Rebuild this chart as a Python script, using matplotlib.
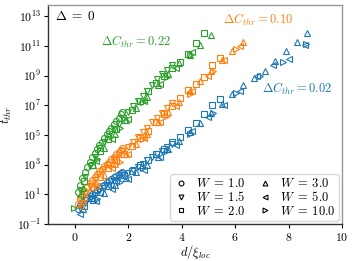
import matplotlib
matplotlib.use("Agg")
import matplotlib.pyplot as plt
from matplotlib.lines import Line2D

plt.rcParams['mathtext.fontset'] = 'cm'
plt.rcParams['font.family'] = 'serif'
plt.rcParams['font.serif'] = ['cmr10', 'DejaVu Serif']
plt.rcParams['axes.formatter.use_mathtext'] = True
plt.rcParams['axes.unicode_minus'] = False

# disorder strengths and their markers
W_values = ['1.0', '1.5', '2.0', '3.0', '5.0', '10.0']
markers = ['o', 'v', 's', '^', '<', '>']

# d/xi_loc grids (one per W)
x_w1 = [0.11, 0.2, 0.29, 0.38, 0.47, 0.56, 0.65, 0.74, 0.83, 0.92, 1.01, 1.1,
        1.19, 1.28, 1.37, 1.46, 1.55, 1.64, 1.73, 1.78]
x_w15 = [0.2, 0.38, 0.56, 0.74, 0.92, 1.1, 1.28, 1.46, 1.64, 1.82, 2.0, 2.18,
         2.36, 2.54, 2.72, 2.9, 3.08, 3.26, 3.44, 3.62]
x_w2 = [0.35, 0.65, 0.95, 1.25, 1.55, 1.85, 2.15, 2.45, 2.75, 3.05, 3.35, 3.65,
        3.95, 4.25, 4.55, 4.85, 5.15, 5.45]
x_w3 = [0.3, 0.7, 1.1, 1.5, 1.9, 2.3, 2.7, 3.1, 3.5, 3.9, 4.3, 4.7, 5.1, 5.5,
        5.9, 6.3, 6.7, 7.1, 7.5, 7.9, 8.3, 8.7]
x_w5 = [0.2, 0.8, 1.4, 2.0, 2.6, 3.2, 3.8, 4.4, 5.0, 5.6, 6.2, 6.8, 7.4, 8.0, 8.6]
x_w10 = [-0.04, 0.83, 1.7, 2.57, 3.44, 4.31, 5.18, 6.05, 6.92, 7.79, 8.66]

# log10(t_thr), dC_thr = 0.22 (green)
g_w1 = [1.16, 1.6, 2.1, 2.5, 2.85, 3.2, 3.5, 3.8, 4.05, 4.3, 4.55, 4.8, 5.05,
        5.3, 5.5, 5.75, 5.95, 6.15, 6.4, 6.55]
g_w15 = [1.3, 2.2, 2.9, 3.55, 4.1, 4.55, 4.95, 5.4, 5.75, 6.15, 6.55, 6.95,
         7.3, 7.65, 8.0, 8.4, 8.75, 9.1, 9.4, 9.75]
g_w2 = [1.9, 3.0, 3.9, 4.7, 5.4, 6.0, 6.7, 7.3, 7.95, 8.5, 9.0, 9.5, 9.95,
        10.5, 11.2, 11.9]
g_w3 = [1.4, 3.0, 4.15, 5.1, 6.0, 6.8, 7.6, 8.4, 9.1, 9.85, 10.4, 11.05, 11.75]
g_w5 = [0.9, 3.25, 4.75, 6.1, 7.3, 8.45, 9.55, 10.6]
g_w10 = [0.08, 3.35, 5.45, 7.25, 8.9, 10.4]

# dC_thr = 0.10 (orange)
o_w1 = [0.35, 0.7, 1.0, 1.25, 1.5, 1.75, 1.95, 2.15, 2.35, 2.55, 2.7, 2.9,
        3.05, 3.2, 3.4, 3.55, 3.7, 3.85, 4.0, 4.1]
o_w15 = [0.65, 1.1, 1.55, 1.95, 2.35, 2.7, 3.0, 3.35, 3.65, 3.95, 4.2, 4.55,
         4.85, 5.2, 5.5, 5.85, 6.15, 6.5, 6.8, 7.15]
o_w2 = [0.85, 1.5, 2.2, 2.75, 3.3, 3.75, 4.25, 4.8, 5.3, 5.85, 6.4, 6.95, 7.5,
        8.05, 8.45, 8.9, 9.7, 10.2]
o_w3 = [0.55, 1.5, 2.3, 3.05, 3.7, 4.4, 5.1, 5.85, 6.55, 7.25, 7.95, 8.65,
        9.35, 10.05, 10.7, 11.3]
o_w5 = [0.2, 1.55, 2.75, 3.7, 4.8, 5.85, 6.95, 7.95, 9.0, 10.05, 11.0]
o_w10 = [None, 1.7, 3.2, 4.75, 6.3, 7.8, 9.3, 10.8]

# dC_thr = 0.02 (blue)
b_w1 = [0.0, 0.25, 0.45, 0.6, 0.75, 0.9, 1.0, 1.15, 1.3, 1.4, 1.55, 1.65, 1.8,
        1.9, 2.0, 2.15, 2.25, 2.35, 2.45, 2.5]
b_w15 = [0.1, 0.4, 0.7, 0.95, 1.2, 1.45, 1.65, 1.9, 2.1, 2.3, 2.45, 2.65, 2.85,
         3.05, 3.3, 3.5, 3.75, 3.95, 4.2, 4.4]
b_w2 = [0.2, 0.75, 1.15, 1.55, 1.95, 2.3, 2.6, 2.95, 3.3, 3.7, 4.05, 4.5, 4.9,
        5.35, 5.8, 6.4, 7.0, 7.45]
b_w3 = [0.0, 0.6, 1.1, 1.65, 2.1, 2.5, 2.95, 3.5, 4.05, 4.6, 5.2, 5.8, 6.5,
        7.1, 7.8, 8.4, 8.85, 9.3, 10.0, 10.7, 11.25, 11.9]
b_w5 = [-0.3, 0.55, 1.35, 2.0, 2.65, 3.5, 4.3, 5.3, 6.2, 7.0, 8.0, 9.0, 9.7,
        10.15, 11.1]
b_w10 = [None, 0.7, 1.8, 2.8, 3.95, 5.1, 6.5, 7.85, 9.0, 9.9, 11.15]

x_grids = [x_w1, x_w15, x_w2, x_w3, x_w5, x_w10]
series = {
    'C0': [b_w1, b_w15, b_w2, b_w3, b_w5, b_w10],
    'C1': [o_w1, o_w15, o_w2, o_w3, o_w5, o_w10],
    'C2': [g_w1, g_w15, g_w2, g_w3, g_w5, g_w10],
}

fig = plt.figure(figsize=(3.53, 2.61), dpi=100)
ax = fig.add_axes([0.136, 0.142, 0.833, 0.839])

for color, rows in series.items():
    for xs, ys, m in zip(x_grids, rows, markers):
        pts = [(x, 10.0 ** y) for x, y in zip(xs, ys) if y is not None]
        ax.plot([p[0] for p in pts], [p[1] for p in pts], ls='none', marker=m,
                ms=4.3, mfc='none', mec=color, mew=0.8)

ax.set_yscale('log')
ax.set_xlim(-1, 10)
ax.set_ylim(1e-1, 6e13)
ax.set_yticks([10.0 ** k for k in range(-1, 14, 2)])
ax.minorticks_off()
ax.set_xticks([0, 2, 4, 6, 8, 10])
ax.tick_params(labelsize=8.5, length=3, width=0.8, direction='out', pad=2)

for side in ['top', 'right']:
    ax.spines[side].set_color('0.6')
for side in ['left', 'bottom']:
    ax.spines[side].set_color('0.2')
for s in ax.spines.values():
    s.set_linewidth(1.0)

ax.set_xlabel(r'$d/\xi_{loc}$', fontsize=9, labelpad=0)
ax.set_ylabel(r'$t_{thr}$', fontsize=9, labelpad=2)

ax.text(0.025, 0.975, r'$\Delta\;=\;0$', transform=ax.transAxes, fontsize=9.5,
        va='top', ha='left')
ax.text(1.0, 10 ** 11.3, r'$\Delta C_{thr}=0.22$', color='C2', fontsize=9,
        va='center', ha='left')
ax.text(5.55, 10 ** 12.8, r'$\Delta C_{thr}=0.10$', color='C1', fontsize=9,
        va='center', ha='left')
ax.text(7.0, 10 ** 8.1, r'$\Delta C_{thr}=0.02$', color='C0', fontsize=9,
        va='center', ha='left')

handles = [Line2D([], [], ls='none', marker=m, ms=3.5, mfc='none', mec='k',
                  mew=0.8) for m in markers]
labels = [r'$W\;=\;%s$' % w for w in W_values]
ax.legend(handles, labels, ncol=2, loc='lower right', fontsize=9,
          labelspacing=0.02, handletextpad=0.6, columnspacing=1.0,
          handlelength=1.2, borderpad=0.25, borderaxespad=0.25,
          fancybox=True, framealpha=1.0, edgecolor='0.85')

fig.savefig('out.png', dpi=100)
